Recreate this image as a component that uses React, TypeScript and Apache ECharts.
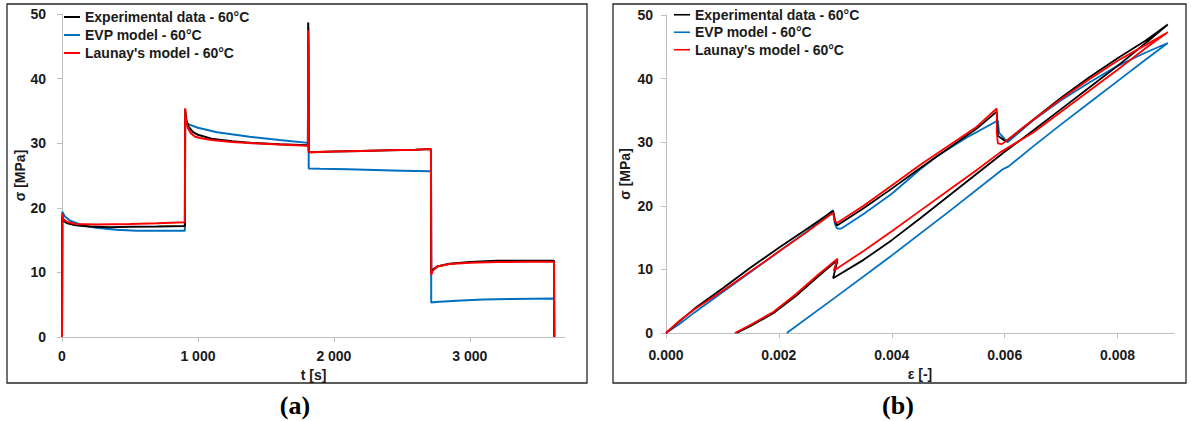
import React, { useEffect, useRef } from "react";
import * as echarts from "echarts";

// ---------- Data ----------
const seriesNames = ["Experimental data - 60°C", "EVP model - 60°C", "Launay's model - 60°C"];

// (a) stress vs time: [t (s), sigma (MPa)]
const expTime: [number, number][] = [
  [0, 0], [2, 18.6], [10, 18.0], [40, 17.6], [100, 17.3], [200, 17.1], [350, 17.0], [500, 17.05], [700, 17.1], [904, 17.2],
  [906, 35.2], [915, 33.6], [930, 32.6], [960, 31.8], [1000, 31.3], [1100, 30.7], [1250, 30.3], [1400, 30.05], [1600, 29.85], [1809, 29.7],
  [1811, 48.7], [1813, 46.5], [1815, 28.7], [1830, 28.6], [2000, 28.7], [2200, 28.8], [2400, 28.9], [2600, 29.0], [2714, 29.1],
  [2716, 9.9], [2725, 10.4], [2760, 10.9], [2850, 11.35], [3000, 11.6], [3200, 11.8], [3400, 11.8], [3619, 11.8], [3621, 0],
];
const evpTime: [number, number][] = [
  [0, 0], [2, 19.4], [20, 18.7], [60, 18.0], [150, 17.3], [250, 16.9], [400, 16.6], [550, 16.45], [904, 16.45],
  [906, 33.1], [1000, 32.4], [1140, 31.7], [1380, 31.0], [1600, 30.5], [1809, 30.05],
  [1811, 45.6], [1813, 40.0], [1815, 26.1], [1900, 26.05], [2100, 25.95], [2300, 25.85], [2500, 25.75], [2714, 25.65],
  [2716, 5.35], [2750, 5.4], [2900, 5.6], [3100, 5.8], [3300, 5.9], [3619, 5.95], [3621, 0],
];
const launayTime: [number, number][] = [
  [0, 0], [3, 19.1], [10, 18.2], [40, 17.8], [100, 17.5], [250, 17.4], [500, 17.5], [700, 17.6], [904, 17.75],
  [906, 35.4], [912, 33.5], [925, 32.4], [945, 31.6], [980, 31.0], [1015, 30.8], [1100, 30.5], [1250, 30.2], [1400, 30.0], [1600, 29.8], [1809, 29.6],
  [1811, 47.5], [1813, 45.0], [1815, 28.6], [1830, 28.6], [2000, 28.7], [2200, 28.8], [2400, 28.9], [2600, 29.0], [2714, 29.1],
  [2716, 9.6], [2725, 10.2], [2760, 10.9], [2850, 11.3], [3000, 11.5], [3200, 11.6], [3400, 11.65], [3619, 11.65], [3621, 0],
];

// (b) stress vs strain: [epsilon (-), sigma (MPa)]
const expStrain: [number, number][] = [
  [0, 0], [0.00025, 1.9], [0.0005, 3.8], [0.001, 7.0], [0.0015, 10.3], [0.002, 13.4], [0.0025, 16.4], [0.00296, 19.2],
  [0.003, 17.5], [0.00303, 16.9],
  [0.0035, 19.6], [0.004, 22.7], [0.0045, 25.9], [0.005, 29.0], [0.0055, 32.1], [0.00586, 34.8],
  [0.00588, 31.0], [0.00602, 30.1],
  [0.0065, 33.5], [0.007, 37.0], [0.0075, 40.2], [0.008, 43.2], [0.0085, 46.0], [0.00889, 48.5],
  [0.0085, 45.6], [0.008, 42.0], [0.0075, 38.6], [0.007, 35.2], [0.0065, 31.8], [0.006, 28.5],
  [0.0055, 25.0], [0.005, 21.5], [0.0045, 18.0], [0.004, 14.6], [0.0035, 11.5], [0.00296, 8.6],
  [0.00304, 11.5],
  [0.0027, 8.9], [0.0023, 5.8], [0.0019, 3.1], [0.0015, 1.1], [0.00125, 0],
];
const evpStrain: [number, number][] = [
  [0, 0], [0.00025, 1.5], [0.0005, 3.2], [0.001, 6.4], [0.0015, 9.6], [0.002, 12.8], [0.0025, 16.0], [0.00296, 19.3],
  [0.00299, 17.2], [0.00303, 16.4], [0.0031, 16.4],
  [0.0035, 18.7], [0.004, 21.9], [0.0045, 25.7], [0.0048, 27.8], [0.0053, 30.6], [0.00588, 33.4],
  [0.0059, 31.5], [0.00605, 30.0],
  [0.0065, 33.4], [0.007, 36.6], [0.0075, 39.4], [0.008, 42.0], [0.0085, 44.1], [0.00889, 45.6],
  [0.0085, 43.0], [0.008, 39.6], [0.0075, 36.2], [0.007, 32.8], [0.0065, 29.3], [0.00607, 26.2],
  [0.00596, 25.7], [0.005, 19.0], [0.004, 12.2], [0.003, 5.6], [0.00214, 0],
];
const launayStrain: [number, number][] = [
  [0, 0], [0.00025, 2.0], [0.0005, 3.7], [0.001, 6.6], [0.0015, 9.7], [0.002, 12.8], [0.0025, 15.9], [0.00296, 18.9],
  [0.00299, 17.6], [0.00303, 17.3],
  [0.0035, 20.0], [0.004, 23.2], [0.0045, 26.4], [0.005, 29.4], [0.0055, 32.4], [0.00586, 35.3],
  [0.00586, 31.5], [0.00588, 29.8], [0.00595, 29.7], [0.0061, 30.7],
  [0.0065, 33.5], [0.007, 36.8], [0.0075, 39.9], [0.008, 42.8], [0.0085, 45.3], [0.00889, 47.3],
  [0.0085, 44.8], [0.008, 41.4], [0.0075, 38.1], [0.007, 34.8], [0.0065, 31.5], [0.00592, 28.4],
  [0.0055, 25.6], [0.005, 22.4], [0.0045, 19.2], [0.004, 16.0], [0.0035, 12.9], [0.00297, 9.8],
  [0.00304, 11.7],
  [0.0027, 9.2], [0.0023, 6.1], [0.0019, 3.3], [0.0015, 1.3], [0.00122, 0],
];

// tick values
const timeTicks = [0, 1000, 2000, 3000];
const strainTicks = [0, 0.002, 0.004, 0.006, 0.008];
const stressTicks = [0, 10, 20, 30, 40, 50];

const colors = { exp: "#000000", evp: "#0070C0", launay: "#FF0000" };
const FONT = "'Liberation Sans', Arial, sans-serif";
const SERIF = "'Liberation Serif', 'Times New Roman', serif";

export default function App() {
  const ref = useRef<HTMLDivElement>(null);

  useEffect(() => {
    if (!ref.current) return;
    const chart = echarts.init(ref.current, null, { renderer: "svg" });

    const labelStyle = { fontFamily: FONT, fontWeight: "bold" as const, fontSize: 14, color: "#1a1a1a" };
    const axisLineStyle = { lineStyle: { color: "#bfbfbf", width: 1 } };
    const tickStyle = { show: true, length: 5, lineStyle: { color: "#bfbfbf" } };

    const mkSeries = (name: string, data: [number, number][], color: string, idx: number, width: number) => ({
      name,
      type: "line",
      data,
      xAxisIndex: idx,
      yAxisIndex: idx,
      showSymbol: false,
      symbol: "none",
      lineStyle: { color, width },
      itemStyle: { color },
      silent: true,
    });

    const legendBase = {
      orient: "vertical",
      icon: "rect",
      itemWidth: 16,
      itemHeight: 2,
      itemGap: 0,
      padding: 0,
      selectedMode: false,
      data: seriesNames,
      textStyle: { ...labelStyle, fontSize: 14, lineHeight: 18 },
    };

    chart.setOption({
      animation: false,
      backgroundColor: "#ffffff",
      grid: [
        { left: 62, top: 14, width: 503, height: 323, containLabel: false },
        { left: 666, top: 15, width: 508, height: 318, containLabel: false },
      ],
      legend: [
        { ...legendBase, left: 64, top: 8 },
        { ...legendBase, left: 674, top: 6, itemHeight: 1.6, textStyle: { ...labelStyle, fontSize: 14, lineHeight: 17.5 } },
      ],
      xAxis: [
        {
          type: "value",
          gridIndex: 0,
          min: 0,
          max: 3700,
          interval: 1000,
          name: "t [s]",
          nameLocation: "middle",
          nameGap: 29,
          nameTextStyle: labelStyle,
          axisLine: axisLineStyle,
          axisTick: { ...tickStyle, customValues: timeTicks },
          splitLine: { show: false },
          axisLabel: {
            ...labelStyle,
            margin: 12,
            customValues: timeTicks,
            formatter: (v: number) => String(v).replace(/\B(?=(\d{3})+(?!\d))/g, " "),
          },
        },
        {
          type: "value",
          gridIndex: 1,
          min: 0,
          max: 0.009,
          interval: 0.002,
          name: "ε [-]",
          nameLocation: "middle",
          nameGap: 32,
          nameTextStyle: labelStyle,
          axisLine: axisLineStyle,
          axisTick: { ...tickStyle, customValues: strainTicks },
          splitLine: { show: false },
          axisLabel: {
            ...labelStyle,
            margin: 15,
            customValues: strainTicks,
            formatter: (v: number) => v.toFixed(3),
          },
        },
      ],
      yAxis: [
        {
          type: "value",
          gridIndex: 0,
          min: 0,
          max: 50,
          interval: 10,
          name: "σ [MPa]",
          nameLocation: "middle",
          nameGap: 35,
          nameTextStyle: labelStyle,
          axisLine: { show: true, ...axisLineStyle },
          axisTick: { ...tickStyle, customValues: stressTicks },
          splitLine: { show: false },
          axisLabel: { ...labelStyle, margin: 16, customValues: stressTicks },
        },
        {
          type: "value",
          gridIndex: 1,
          min: 0,
          max: 50,
          interval: 10,
          name: "σ [MPa]",
          nameLocation: "middle",
          nameGap: 34,
          nameTextStyle: labelStyle,
          axisLine: { show: true, ...axisLineStyle },
          axisTick: { ...tickStyle, customValues: stressTicks },
          splitLine: { show: false },
          axisLabel: { ...labelStyle, margin: 13, customValues: stressTicks },
        },
      ],
      series: [
        mkSeries(seriesNames[1], evpTime, colors.evp, 0, 2),
        mkSeries(seriesNames[0], expTime, colors.exp, 0, 2),
        mkSeries(seriesNames[2], launayTime, colors.launay, 0, 2),
        mkSeries(seriesNames[1], evpStrain, colors.evp, 1, 1.8),
        mkSeries(seriesNames[0], expStrain, colors.exp, 1, 1.8),
        mkSeries(seriesNames[2], launayStrain, colors.launay, 1, 1.8),
      ],
      graphic: [
        { type: "rect", silent: true, shape: { x: 7, y: 4, width: 580, height: 379 }, style: { fill: "none", stroke: "#262626", lineWidth: 1.3 } },
        { type: "rect", silent: true, shape: { x: 613, y: 4, width: 573, height: 379 }, style: { fill: "none", stroke: "#262626", lineWidth: 1.3 } },
        { type: "text", silent: true, x: 295, y: 405, style: { text: "(a)", fontFamily: SERIF, fontWeight: "bold", fontSize: 26, fill: "#000", textAlign: "center", textVerticalAlign: "middle" } },
        { type: "text", silent: true, x: 898, y: 405, style: { text: "(b)", fontFamily: SERIF, fontWeight: "bold", fontSize: 26, fill: "#000", textAlign: "center", textVerticalAlign: "middle" } },
      ],
    });

    return () => chart.dispose();
  }, []);

  return <div ref={ref} style={{ position: "absolute", left: 0, top: 0, width: 1191, height: 421, background: "#fff" }} />;
}
